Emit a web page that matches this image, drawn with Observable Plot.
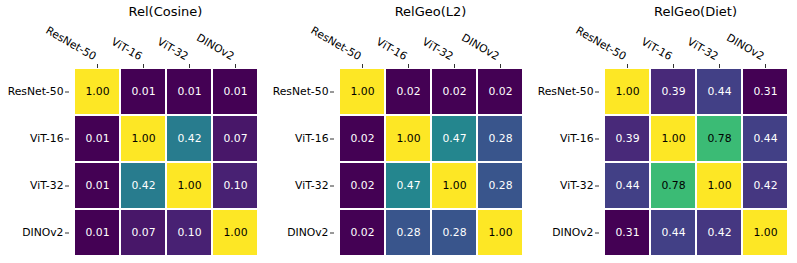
<!DOCTYPE html>
<html>
<head>
<meta charset="utf-8">
<script src="https://cdn.jsdelivr.net/npm/d3@7"></script>
<script src="https://cdn.jsdelivr.net/npm/@observablehq/plot@0.6"></script>
<style>
  html, body { margin: 0; padding: 0; background: #fff; }
  body { width: 797px; height: 263px; overflow: hidden; font-family: "DejaVu Sans", sans-serif; }
  #row { display: flex; flex-direction: row; }
  .panel { width: 265px; }
  .panel svg { font-family: "DejaVu Sans", sans-serif !important; font-size: 10.8px !important; }
  .title { font-size: 13px; line-height: 24px; height: 24px; text-align: center; margin-left: 72px; width: 187px; color: #000; white-space: nowrap; }
</style>
</head>
<body>
<div id="row"></div>
<script>
const models = ["ResNet-50", "ViT-16", "ViT-32", "DINOv2"];
const titles = ["Rel(Cosine)", "RelGeo(L2)", "RelGeo(Diet)"];
const cosine = [
  [1.00, 0.01, 0.01, 0.01],
  [0.01, 1.00, 0.42, 0.07],
  [0.01, 0.42, 1.00, 0.10],
  [0.01, 0.07, 0.10, 1.00]
];
const l2 = [
  [1.00, 0.02, 0.02, 0.02],
  [0.02, 1.00, 0.47, 0.28],
  [0.02, 0.47, 1.00, 0.28],
  [0.02, 0.28, 0.28, 1.00]
];
const diet = [
  [1.00, 0.39, 0.44, 0.31],
  [0.39, 1.00, 0.78, 0.44],
  [0.44, 0.78, 1.00, 0.42],
  [0.31, 0.44, 0.42, 1.00]
];
const matrices = [cosine, l2, diet];

const row = document.getElementById("row");
matrices.forEach((m, k) => {
  const cells = [];
  m.forEach((r, i) => r.forEach((v, j) => cells.push({row: models[i], col: models[j], v})));
  const vals = cells.map(d => d.v);
  const lo = d3.min(vals), hi = d3.max(vals);
  const textColor = d => {
    const c = d3.interpolateViridis((d.v - lo) / (hi - lo));
    return d3.lab(c).l > 60 ? "black" : "white";
  };
  const panel = document.createElement("div");
  panel.className = "panel";
  const t = document.createElement("div");
  t.className = "title";
  t.textContent = titles[k];
  panel.appendChild(t);
  const chart = Plot.plot({
    width: 265,
    height: 239,
    marginLeft: 72,
    marginRight: 6,
    marginTop: 44,
    marginBottom: 7,
    style: {background: "white", color: "#000"},
    x: {domain: models, padding: 0, axis: null},
    y: {domain: models, padding: 0, axis: null},
    color: {type: "linear", scheme: "viridis", domain: [lo, hi]},
    marks: [
      Plot.cell(cells, {x: "col", y: "row", fill: "v", inset: 1}),
      Plot.text(cells, {x: "col", y: "row", text: d => d.v.toFixed(2), fill: textColor, fontSize: 10.8}),
      Plot.axisX({anchor: "top", label: null, tickSize: 4, tickPadding: 0, dy: -1, tickFormat: () => "", stroke: "#333"}),
      Plot.text(models, {x: d => d, frameAnchor: "top", dx: -4, dy: -8, rotate: 30, textAnchor: "end", lineAnchor: "bottom", text: d => d, fontSize: 10.8}),
      Plot.axisY({anchor: "left", label: null, tickSize: 4, tickPadding: 2, dx: -3, fontSize: 10.8, stroke: "#333"})
    ]
  });
  panel.appendChild(chart);
  row.appendChild(panel);
});
</script>
</body>
</html>
